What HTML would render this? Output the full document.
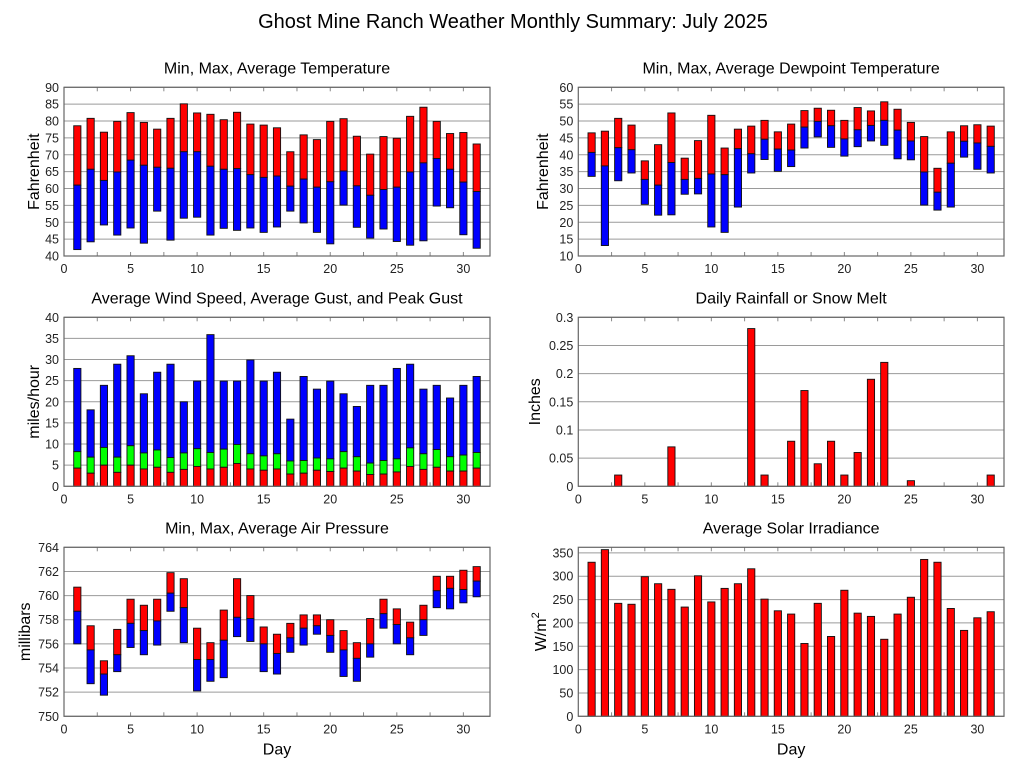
<!DOCTYPE html>
<html><head><meta charset="utf-8">
<style>
html,body{margin:0;padding:0;background:#fff;}
svg{display:block;font-family:"Liberation Sans",sans-serif;}
</style></head>
<body>
<svg id="chart" width="1027" height="772" viewBox="0 0 1027 772" xmlns="http://www.w3.org/2000/svg">
<text x="513" y="28" font-size="20" text-anchor="middle" fill="#000">Ghost Mine Ranch Weather Monthly Summary: July 2025</text>
</svg>
<script>
const days = [1,2,3,4,5,6,7,8,9,10,11,12,13,14,15,16,17,18,19,20,21,22,23,24,25,26,27,28,29,30,31];
const tempMax = [78.6,80.8,76.7,79.9,82.5,79.6,77.6,80.8,85.1,82.4,82.0,80.4,82.6,79.1,78.8,78.0,70.9,75.9,74.5,79.9,80.7,75.5,70.2,75.4,74.9,81.4,84.1,79.9,76.3,76.6,73.2];
const tempAvg = [61.0,65.7,62.4,64.9,68.4,66.9,66.3,66.0,70.9,70.9,66.6,65.7,65.9,64.1,63.3,63.7,60.7,62.8,60.4,62.0,65.2,60.8,58.0,59.7,60.4,64.9,67.6,68.9,65.7,61.9,59.1];
const tempMin = [41.9,44.2,49.2,46.2,48.3,43.8,53.3,44.7,51.2,51.5,46.2,48.2,47.6,48.3,47.0,48.6,53.3,49.8,47.0,43.6,55.1,48.5,45.3,48.0,44.3,43.2,44.5,54.8,54.3,46.3,42.3];
const dewMax = [46.5,47.0,50.8,48.8,38.2,43.0,52.4,39.0,44.2,51.7,42.0,47.6,48.5,50.2,46.8,49.1,53.1,53.8,53.2,50.2,54.0,53.0,55.7,53.5,49.6,45.4,36.0,46.8,48.6,48.9,48.5];
const dewAvg = [40.7,36.7,42.1,41.5,32.7,31.0,37.7,32.7,33.0,34.3,34.1,41.8,40.3,44.6,41.7,41.4,48.2,49.9,48.6,44.7,47.4,48.7,50.2,47.3,44.1,34.9,28.9,37.5,44.0,43.5,42.5];
const dewMin = [33.6,13.1,32.3,34.6,25.3,22.1,22.2,28.3,28.4,18.6,17.0,24.5,34.6,38.6,35.1,36.5,42.0,45.3,42.2,39.6,42.4,44.1,42.8,38.8,38.5,25.1,23.6,24.5,39.3,35.7,34.6];
const windPeak = [27.9,18.1,23.9,28.9,30.9,21.9,27.0,28.9,20.0,24.9,35.9,24.9,24.9,29.9,24.9,27.0,15.9,26.0,23.0,24.9,21.9,18.9,23.9,23.9,27.9,28.9,23.0,23.9,20.9,23.9,26.0];
const windGust = [8.2,6.9,9.2,6.9,9.6,7.9,8.6,6.8,7.9,8.9,8.0,8.8,9.9,7.7,7.2,7.7,6.0,6.1,6.7,6.5,8.2,7.0,5.5,6.1,6.5,9.1,7.7,8.7,7.0,7.4,8.0];
const windAvg = [4.3,3.1,5.0,3.3,5.0,4.1,4.5,3.3,4.0,4.7,4.1,4.5,5.4,4.1,3.8,4.1,2.9,3.1,3.8,3.5,4.3,3.6,2.8,2.9,3.4,4.7,4.0,4.5,3.6,3.6,4.3];
const rain = [0,0,0.02,0,0,0,0.07,0,0,0,0,0,0.28,0.02,0,0.08,0.17,0.04,0.08,0.02,0.06,0.19,0.22,0,0.01,0,0,0,0,0,0.02];
const presMax = [760.7,757.5,754.6,757.2,759.7,759.2,759.7,761.9,761.4,757.3,756.1,758.8,761.4,760.0,757.4,756.8,757.7,758.4,758.4,758.0,757.1,756.1,758.1,759.7,758.9,757.8,759.2,761.6,761.6,762.1,762.4];
const presAvg = [758.7,755.5,753.5,755.1,757.7,757.1,757.9,760.2,759.0,754.7,754.7,756.3,758.2,758.1,756.0,755.2,756.5,757.3,757.5,756.7,755.5,754.8,756.0,758.5,757.6,756.5,758.0,760.4,760.6,760.5,761.2];
const presMin = [756.0,752.7,751.75,753.7,755.7,755.1,755.9,758.7,756.1,752.1,752.9,753.2,756.6,756.2,753.7,753.5,755.3,755.9,756.8,755.3,753.3,752.9,754.9,757.3,756.0,755.1,756.7,759.0,758.9,759.4,759.9];
const solar = [330,357,242,240,299,284,272,234,301,245,274,284,316,251,226,219,156,242,171,270,221,214,165,219,255,336,330,231,184,211,224];
const xTicks = [0,5,10,15,20,25,30];
const tempTicks = [40,45,50,55,60,65,70,75,80,85,90];
const dewTicks = [10,15,20,25,30,35,40,45,50,55,60];
const windTicks = [0,5,10,15,20,25,30,35,40];
const rainTicks = [0,0.05,0.1,0.15,0.2,0.25,0.3];
const presTicks = [750,752,754,756,758,760,762,764];
const solarTicks = [0,50,100,150,200,250,300,350];

const svg = document.getElementById('chart');
const NS = 'http://www.w3.org/2000/svg';
function mk(tag, attrs, parent){
  const e = document.createElementNS(NS, tag);
  for (const k in attrs) e.setAttribute(k, attrs[k]);
  (parent||svg).appendChild(e);
  return e;
}
function panel(o){
  const g = mk('g', {});
  
  
  const x = d => o.x0 + (d/32)*(o.x1-o.x0);
  const y = v => o.y1 - (v-o.ymin)/(o.ymax-o.ymin)*(o.y1-o.y0);
  const t = mk('text', {x:(o.x0+o.x1)/2, y:o.y0-14, 'font-size':16, 'text-anchor':'middle', fill:'#000'}, g);
  t.textContent = o.title;
  
  
  o.yTicks.forEach(v => {
    const gl = mk('line', {x1:o.x0, x2:o.x1, y1:y(v), y2:y(v), stroke:'#9a9a9a', 'stroke-width':1}, g);
    
    
    const tl = mk('text', {x:o.x0-5, y:y(v)+4.5, 'font-size':12.5, 'text-anchor':'end', fill:'#222'}, g);
    tl.textContent = o.fmt ? o.fmt(v) : v;
    
    
  });
  for (let d=2.5; d<32; d+=2.5){
    mk('line', {x1:x(d), x2:x(d), y1:o.y0, y2:o.y0+4, stroke:'#888'}, g);
    mk('line', {x1:x(d), x2:x(d), y1:o.y1, y2:o.y1-4, stroke:'#888'}, g);
  }
  xTicks.forEach(d => {
    const tl = mk('text', {x:x(d), y:o.y1+17, 'font-size':12.5, 'text-anchor':'middle', fill:'#222'}, g);
    tl.textContent = d;
    
    
  });
  const bw = 7.2;
  o.series.forEach(s => {
    days.forEach((d,i) => {
      const lo = s.lo ? s.lo[i] : o.ymin;
      const hi = s.hi[i];
      if (hi <= lo) return;
      const r = mk('rect', {x:x(d)-bw/2, y:y(hi), width:bw, height:y(lo)-y(hi), fill:s.color, stroke:'#111', 'stroke-width':0.9}, g);
      
      
    });
  });
  const b = mk('rect', {x:o.x0, y:o.y0, width:o.x1-o.x0, height:o.y1-o.y0, fill:'none', stroke:'#666', 'stroke-width':1.2}, g);
  
  
  const yt = mk('text', {x:0, y:0, 'font-size':16, 'text-anchor':'middle', fill:'#000', transform:'translate('+o.ylx+','+((o.y0+o.y1)/2)+') rotate(-90)'}, g);
  
  
  if (o.ylabelSup){
    yt.textContent = o.ylabel;
    const sp = mk('tspan', {dy:-7, 'font-size':11}, yt);
    sp.textContent = o.ylabelSup;
  } else yt.textContent = o.ylabel;
  if (o.xlabel){
    const xt = mk('text', {x:(o.x0+o.x1)/2, y:o.y1+38, 'font-size':16, 'text-anchor':'middle', fill:'#000'}, g);
    xt.textContent = o.xlabel;
    
    
  }
}
const L = [64,490], R = [578.3,1004];
const rows = [[87.3,256],[317.3,486.3],[547.3,716.3]];
panel({name:'temperature-panel', title:'Min, Max, Average Temperature', x0:L[0], x1:L[1], y0:rows[0][0], y1:rows[0][1], ymin:40, ymax:90, yTicks:tempTicks, ylabel:'Fahrenheit', ylx:39,
  series:[{name:'temp-max', hi:tempMax, lo:tempAvg, color:'#ff0000'},{name:'temp-min', hi:tempAvg, lo:tempMin, color:'#0000ff'}]});
panel({name:'dewpoint-panel', title:'Min, Max, Average Dewpoint Temperature', x0:R[0], x1:R[1], y0:rows[0][0], y1:rows[0][1], ymin:10, ymax:60, yTicks:dewTicks, ylabel:'Fahrenheit', ylx:548,
  series:[{name:'dew-max', hi:dewMax, lo:dewAvg, color:'#ff0000'},{name:'dew-min', hi:dewAvg, lo:dewMin, color:'#0000ff'}]});
panel({name:'wind-panel', title:'Average Wind Speed, Average Gust, and Peak Gust', x0:L[0], x1:L[1], y0:rows[1][0], y1:rows[1][1], ymin:0, ymax:40, yTicks:windTicks, ylabel:'miles/hour', ylx:39,
  series:[{name:'wind-peak', hi:windPeak, lo:windGust, color:'#0000ff'},{name:'wind-gust', hi:windGust, lo:windAvg, color:'#00ff00'},{name:'wind-avg', hi:windAvg, color:'#ff0000'}]});
panel({name:'rainfall-panel', title:'Daily Rainfall or Snow Melt', x0:R[0], x1:R[1], y0:rows[1][0], y1:rows[1][1], ymin:0, ymax:0.3, yTicks:rainTicks, ylabel:'Inches', ylx:540, fmt:v=>String(+v.toFixed(2)),
  series:[{name:'rain', hi:rain, color:'#ff0000'}]});
panel({name:'pressure-panel', title:'Min, Max, Average Air Pressure', x0:L[0], x1:L[1], y0:rows[2][0], y1:rows[2][1], ymin:750, ymax:764, yTicks:presTicks, ylabel:'millibars', ylx:30, xlabel:'Day',
  series:[{name:'pres-max', hi:presMax, lo:presAvg, color:'#ff0000'},{name:'pres-min', hi:presAvg, lo:presMin, color:'#0000ff'}]});
panel({name:'solar-panel', title:'Average Solar Irradiance', x0:R[0], x1:R[1], y0:rows[2][0], y1:rows[2][1], ymin:0, ymax:362, yTicks:solarTicks, ylabel:'W/m', ylabelSup:'2', ylx:546, xlabel:'Day',
  series:[{name:'solar', hi:solar, color:'#ff0000'}]});
</script>
</body></html>
